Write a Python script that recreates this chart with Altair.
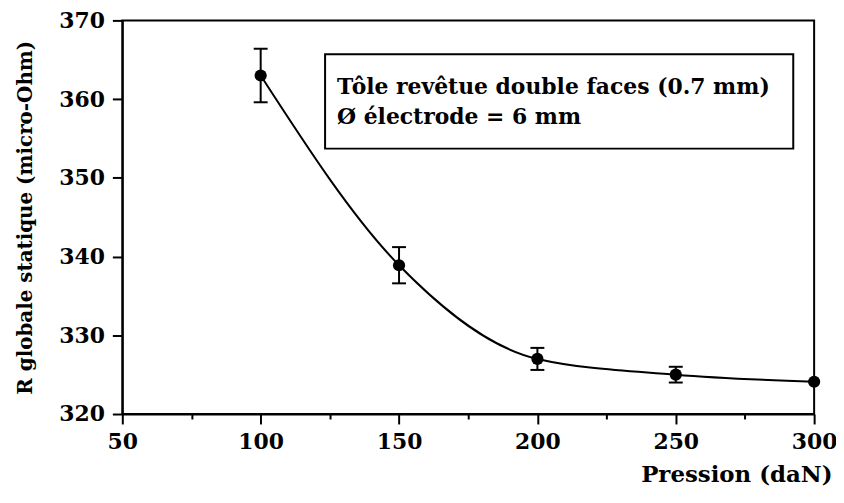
import altair as alt
import pandas as pd

# ---- data ----
pressure = [100, 150, 200, 250, 300]
resistance = [363.0, 338.9, 327.0, 325.0, 324.1]
error = [3.4, 2.3, 1.4, 1.0, 0.0]

x_ticks = [50, 75, 100, 125, 150, 175, 200, 225, 250, 275, 300]
y_ticks = [320, 325, 330, 335, 340, 345, 350, 355, 360, 365, 370]

x_title = "Pression (daN)"
y_title = "R globale statique (micro-Ohm)"
box_lines = ["Tôle revêtue double faces (0.7 mm)", "Ø électrode = 6 mm"]

FONT = "DejaVu Serif"

df = pd.DataFrame({"p": pressure, "r": resistance, "e": error})
df["lo"] = df["r"] - df["e"]
df["hi"] = df["r"] + df["e"]

W, H = 696, 396

x_axis = alt.Axis(
    values=x_ticks,
    labelExpr="datum.value % 50 === 0 ? datum.label : ''",
    tickSize={"condition": {"test": "datum.value % 50 === 0", "value": 10}, "value": 5},
    tickWidth=2, tickColor="black",
    domainWidth=2, domainColor="black",
    grid=False,
    labelFont=FONT, labelFontSize=22, labelFontWeight="bold", labelColor="black",
    labelPadding=8, labelOverlap=False, labelFlush=False,
    title=x_title, titleFont=FONT, titleFontSize=23, titleFontWeight="bold",
    titleColor="black", titleAlign="right", titleX=714, titleY=68,
    titleBaseline="alphabetic", titleAnchor="end",
)

y_axis = alt.Axis(
    values=y_ticks,
    labelExpr="datum.value % 10 === 0 ? datum.label : ''",
    tickSize={"condition": {"test": "datum.value % 10 === 0", "value": 10}, "value": 5},
    tickWidth=2, tickColor="black",
    domainWidth=2, domainColor="black",
    grid=False,
    labelFont=FONT, labelFontSize=22, labelFontWeight="bold", labelColor="black",
    labelPadding=8, labelOverlap=False, labelFlush=False,
    title=y_title, titleFont=FONT, titleFontSize=20, titleFontWeight="bold",
    titleColor="black", titleAngle=270, titleX=-97, titleY=H / 2,
    titleAlign="center", titleBaseline="middle",
)

xs = alt.Scale(domain=[50, 300], nice=False, zero=False)
ys = alt.Scale(domain=[320, 370], nice=False, zero=False)

base = alt.Chart(df)

line = base.mark_line(interpolate="monotone", color="black", strokeWidth=2).encode(
    x=alt.X("p:Q", scale=xs, axis=x_axis),
    y=alt.Y("r:Q", scale=ys, axis=y_axis),
)

bars = base.transform_filter("datum.e > 0").mark_rule(color="black", strokeWidth=2).encode(
    x="p:Q", y="lo:Q", y2="hi:Q"
)
cap_lo = base.transform_filter("datum.e > 0").mark_tick(
    orient="horizontal", color="black", size=14, thickness=2, opacity=1
).encode(x="p:Q", y="lo:Q")
cap_hi = base.transform_filter("datum.e > 0").mark_tick(
    orient="horizontal", color="black", size=14, thickness=2, opacity=1
).encode(x="p:Q", y="hi:Q")

points = base.mark_circle(size=150, color="black", opacity=1).encode(x="p:Q", y="r:Q")

ann = alt.Chart(pd.DataFrame({"t": [box_lines[0]], "u": [box_lines[1]]}))
box = ann.mark_rect(fill="white", stroke="black", strokeWidth=2).encode(
    x=alt.value(204), x2=alt.value(675), y=alt.value(34), y2=alt.value(129)
)
txt1 = ann.mark_text(
    align="left", baseline="alphabetic", font=FONT, fontSize=22, fontWeight="bold", color="black"
).encode(x=alt.value(216), y=alt.value(74), text="t:N")
txt2 = ann.mark_text(
    align="left", baseline="alphabetic", font=FONT, fontSize=22, fontWeight="bold", color="black"
).encode(x=alt.value(216), y=alt.value(104), text="u:N")

chart = alt.layer(line, bars, cap_lo, cap_hi, points, box, txt1, txt2).properties(
    width=W, height=H,
    autosize=alt.AutoSizeParams(type="none"),
    padding={"left": 115, "top": 11, "right": 22, "bottom": 80},
    background="white",
).configure_view(stroke="black", strokeWidth=2)

chart.save("out.html", embed_options={"renderer": "svg", "actions": False})
